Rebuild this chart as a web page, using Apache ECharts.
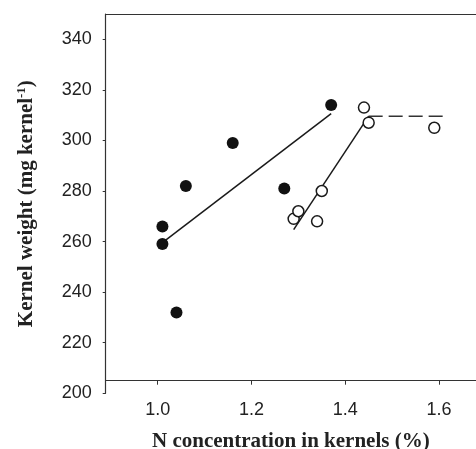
<!DOCTYPE html>
<html>
<head>
<meta charset="utf-8">
<script src="https://cdn.jsdelivr.net/npm/echarts@6/dist/echarts.min.js"></script>
<style>html,body{margin:0;padding:0;background:#fff;}#c{width:476px;height:449px;}</style>
</head>
<body>
<div id="c"></div>
<script>
// Data
var filledX = [1.01, 1.01, 1.04, 1.06, 1.16, 1.27, 1.37];
var filledY = [266, 259, 232, 282, 299, 281, 314];
var openX = [1.29, 1.30, 1.34, 1.35, 1.44, 1.45, 1.59];
var openY = [269, 272, 268, 280, 313, 307, 305];
var fitFilledX = [1.01, 1.37];
var fitFilledY = [259.6, 310.6];
var fitOpenX = [1.29, 1.45];
var fitOpenY = [264.7, 309.6];
var plateauX = [1.45, 1.615];
var plateauY = [309.6, 309.6];
var xTicks = [1.0, 1.2, 1.4, 1.6];
var yTicks = [200, 220, 240, 260, 280, 300, 320, 340];

function pairs(xs, ys) { return xs.map(function (x, i) { return [x, ys[i]]; }); }

var chart = echarts.init(document.getElementById('c'), null, { renderer: 'canvas' });
var axisColor = '#333';
var textColor = '#222';
chart.setOption({
  animation: false,
  backgroundColor: '#fff',
  grid: { left: 105.7, top: 14, right: 0, bottom: 55.7, containLabel: false, outerBoundsMode: 'none' },
  xAxis: [{
    type: 'value', min: 0.889, max: 1.679, position: 'bottom', offset: -12.6,
    name: 'N concentration in kernels (%)', nameLocation: 'middle', nameGap: 50,
    nameTextStyle: { fontFamily: 'Liberation Serif', fontWeight: 'bold', fontSize: 21, color: textColor },
    axisLine: { show: true, lineStyle: { color: axisColor, width: 1.2 } },
    axisTick: { show: true, length: 4, customValues: xTicks, lineStyle: { color: axisColor } },
    axisLabel: { customValues: xTicks, margin: 20, fontFamily: 'Liberation Sans', fontSize: 18, color: textColor,
      formatter: function (v) { return v.toFixed(1); } },
    splitLine: { show: false }
  }, {
    type: 'value', min: 0.889, max: 1.679, position: 'top',
    axisLine: { show: true, lineStyle: { color: axisColor, width: 1.2 } },
    axisTick: { show: false }, axisLabel: { show: false }, splitLine: { show: false }
  }],
  yAxis: {
    type: 'value', min: 200, max: 350,
    name: '{t|Kernel weight (mg kernel}{s|-1}{t|)}', nameLocation: 'middle', nameGap: 67, nameRotate: 90,
    nameTextStyle: {
      rich: {
        t: { fontFamily: 'Liberation Serif', fontWeight: 'bold', fontSize: 21, color: textColor, lineHeight: 24 },
        s: { fontFamily: 'Liberation Serif', fontWeight: 'bold', fontSize: 13, color: textColor, verticalAlign: 'top', lineHeight: 24, padding: [0, 0, 9, 0] }
      }
    },
    axisLine: { show: true, lineStyle: { color: axisColor, width: 1.2 } },
    axisTick: { show: true, length: 3, customValues: yTicks, lineStyle: { color: axisColor } },
    axisLabel: { customValues: yTicks, margin: 14, fontFamily: 'Liberation Sans', fontSize: 18, color: textColor },
    splitLine: { show: false }
  },
  series: [
    { type: 'line', data: pairs(fitFilledX, fitFilledY), symbol: 'none', lineStyle: { color: '#1a1a1a', width: 1.5 }, z: 2 },
    { type: 'line', data: pairs(fitOpenX, fitOpenY), symbol: 'none', lineStyle: { color: '#1a1a1a', width: 1.5 }, z: 2 },
    { type: 'line', data: pairs(plateauX, plateauY), symbol: 'none', lineStyle: { color: '#333', width: 1.5, type: [14, 6] }, z: 2 },
    { type: 'scatter', data: pairs(filledX, filledY), symbol: 'circle', symbolSize: 12, itemStyle: { color: '#111', opacity: 1 }, z: 3 },
    { type: 'scatter', data: pairs(openX, openY), symbol: 'circle', symbolSize: 11, itemStyle: { color: '#fff', borderColor: '#1a1a1a', borderWidth: 1.5, opacity: 1 }, z: 3 }
  ]
});
</script>
</body>
</html>
